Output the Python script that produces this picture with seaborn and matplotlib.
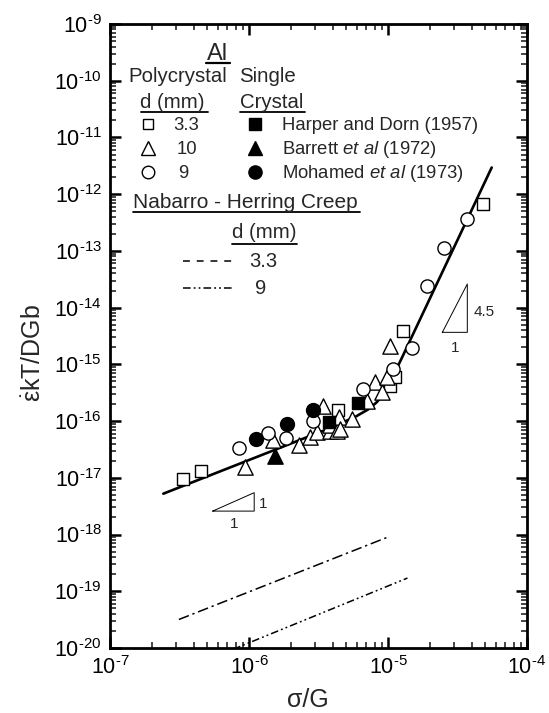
import numpy as np
import pandas as pd
import matplotlib
matplotlib.use("Agg")
import matplotlib.pyplot as plt
import seaborn as sns
from matplotlib.ticker import FixedLocator, LogLocator, FuncFormatter, NullFormatter

# ---- polycrystal data (open symbols) ----
poly33_x = [3.33e-7, 4.52e-7, 4.38e-6, 1.03e-5, 1.12e-5, 1.29e-5, 4.85e-5]
poly33_y = [9.6e-18, 1.31e-17, 1.54e-16, 4.24e-16, 5.93e-16, 3.94e-15, 6.7e-13]

poly10_x = [9.35e-7, 1.50e-6, 2.29e-6, 2.75e-6, 3.07e-6, 3.43e-6, 3.83e-6, 3.83e-6,
            4.28e-6, 4.47e-6, 4.52e-6, 5.48e-6, 7.03e-6, 8.06e-6, 9.0e-6, 9.8e-6, 1.03e-5]
poly10_y = [1.54e-17, 4.55e-17, 3.72e-17, 5.2e-17, 6.4e-17, 1.88e-16, 6.8e-17, 8.4e-17,
            6.8e-17, 1.2e-16, 7.3e-17, 1.1e-16, 2.3e-16, 4.8e-16, 3.2e-16, 5.9e-16, 2.1e-15]

poly9_x = [8.47e-7, 1.36e-6, 1.84e-6, 2.9e-6, 6.64e-6, 1.09e-5, 1.5e-5, 1.9e-5, 2.54e-5, 3.72e-5]
poly9_y = [3.33e-17, 6.1e-17, 5.0e-17, 9.96e-17, 3.7e-16, 8.3e-16, 1.92e-15, 2.44e-14, 1.12e-13, 3.65e-13]

# ---- single crystal data (filled symbols) ----
harper_x = [3.79e-6, 6.1e-6]
harper_y = [9.6e-17, 2.12e-16]
barrett_x = [1.54e-6]
barrett_y = [2.38e-17]
mohamed_x = [1.12e-6, 1.89e-6, 2.9e-6]
mohamed_y = [4.74e-17, 8.96e-17, 1.58e-16]

# ---- creep curve through the data ----
fit_x = [2.418e-7, 1.496e-6, 3.826e-6, 5.787e-6, 7.18e-6, 8.334e-6, 9.358e-6,
         1.0337e-5, 1.1418e-5, 1.261e-5, 2.005e-5, 3.89e-5, 5.572e-5]
fit_y = [5.25e-18, 3.036e-17, 7.53e-17, 1.181e-16, 1.60e-16, 2.169e-16, 3.125e-16,
         4.78e-16, 7.94e-16, 1.317e-15, 1.464e-14, 4.556e-13, 2.951e-12]

# ---- Nabarro-Herring predictions ----
nh33_x = [3.13e-7, 1.03e-5]
nh33_y = [3.18e-20, 9.3e-19]
nh9_x = [3.0e-7, 1.38e-5]
nh9_y = [3.7e-21, 1.71e-19]

# ---- slope guides ----
tri1_x = [5.48e-7, 1.09e-6, 1.09e-6, 5.48e-7]
tri1_y = [2.59e-18, 2.59e-18, 5.47e-18, 2.59e-18]
tri45_x = [2.46e-5, 3.72e-5, 3.72e-5, 2.46e-5]
tri45_y = [3.67e-15, 3.67e-15, 2.61e-14, 3.67e-15]

# ---- axis ticks ----
x_tick_exp = [-7, -6, -5, -4]
y_tick_exp = [-20, -19, -18, -17, -16, -15, -14, -13, -12, -11, -10, -9]

W, H = 549, 713
sns.set_style("ticks")
plt.rcParams["font.family"] = ["Liberation Sans", "DejaVu Sans"]
plt.rcParams["mathtext.fontset"] = "custom"
plt.rcParams["mathtext.rm"] = "Liberation Sans"
plt.rcParams["mathtext.it"] = "Liberation Sans:italic"
plt.rcParams["mathtext.bf"] = "Liberation Sans:bold"

fig = plt.figure(figsize=(W / 100, H / 100), dpi=100)
L, R, T, B = 110, 527, 24, 648
ax = fig.add_axes([L / W, 1 - B / H, (R - L) / W, (B - T) / H])


def fx(px):
    return px / W


def fy(py):
    return 1 - py / H


# curve and predicted lines
sns.lineplot(x=fit_x, y=fit_y, ax=ax, color="black", lw=1.9, sort=False,
             estimator=None, zorder=2)
ax.plot(nh33_x, nh33_y, color="black", lw=1.1, dashes=(7, 2.5, 1.5, 2.5), zorder=2)
ax.plot(nh9_x, nh9_y, color="black", lw=1.1, dashes=(5, 2, 1.2, 2, 1.2, 2), zorder=2)

ax.plot(tri1_x, tri1_y, color="black", lw=0.7)
ax.plot(tri45_x, tri45_y, color="black", lw=0.7)

# data groups
groups = [
    (poly33_x, poly33_y, "s", 8.0, "white"),
    (poly10_x, poly10_y, "^", 11.0, "white"),
    (poly9_x, poly9_y, "o", 9.5, "white"),
    (harper_x, harper_y, "s", 8.5, "black"),
    (barrett_x, barrett_y, "^", 11.0, "black"),
    (mohamed_x, mohamed_y, "o", 10.0, "black"),
]
for gx, gy, mk, ms, fc in groups:
    df = pd.DataFrame({"x": gx, "y": gy})
    sns.scatterplot(data=df, x="x", y="y", ax=ax, marker=mk, s=ms ** 2,
                    facecolor=fc, edgecolor="black", linewidth=1.0, zorder=3)

ax.set_xscale("log")
ax.set_yscale("log")
ax.set_xlim(1e-7, 1e-4)
ax.set_ylim(1e-20, 1e-9)
ax.set_xlabel("")
ax.set_ylabel("")

HYPHEN = "\u2010"


def decade_label(v, pos):
    e = int(round(np.log10(v)))
    return "$10^{\\mathrm{" + HYPHEN + str(-e) + "}}$"


ax.xaxis.set_major_locator(FixedLocator([10.0 ** e for e in x_tick_exp]))
ax.yaxis.set_major_locator(FixedLocator([10.0 ** e for e in y_tick_exp]))
ax.xaxis.set_minor_locator(LogLocator(base=10, subs=np.arange(2, 10), numticks=20))
ax.yaxis.set_minor_locator(LogLocator(base=10, subs=np.arange(2, 10), numticks=40))
ax.xaxis.set_major_formatter(FuncFormatter(decade_label))
ax.yaxis.set_major_formatter(FuncFormatter(decade_label))
ax.xaxis.set_minor_formatter(NullFormatter())
ax.yaxis.set_minor_formatter(NullFormatter())

ax.tick_params(which="major", direction="in", length=8, width=1.8,
               top=True, right=True, labelsize=15.5, pad=6, colors="black")
ax.tick_params(which="minor", direction="in", length=4, width=1.2,
               top=True, right=True)
for sp in ax.spines.values():
    sp.set_linewidth(2.0)
    sp.set_color("black")

# slope labels
ax.text(1.17e-6, 3.4e-18, "1", fontsize=11, ha="left", va="center")
ax.text(7.8e-7, 1.55e-18, "1", fontsize=11, ha="center", va="center")
ax.text(4.1e-5, 8.4e-15, "4.5", fontsize=11, ha="left", va="center")
ax.text(3.05e-5, 1.95e-15, "1", fontsize=11, ha="center", va="center")

# axis titles
fig.text(fx(33), fy(353), r"$\dot{\mathrm{\varepsilon}}$kT/DGb", rotation=90,
         fontsize=18, ha="center", va="center")
fig.text(fx(308), fy(700), "σ/G", fontsize=18, ha="center", va="center")


# key: headings
def underline(x0, x1, y, lw=1.3):
    fig.add_artist(plt.Line2D([fx(x0), fx(x1)], [fy(y), fy(y)], color="black", lw=lw,
                              transform=fig.transFigure))


fig.text(fx(217.7), fy(60), "Al", fontsize=17, ha="center", va="baseline")
underline(206, 229.5, 63, lw=1.6)
fig.text(fx(128.5), fy(82.5), "Polycrystal", fontsize=14.7, ha="left", va="baseline")
fig.text(fx(239), fy(82.5), "Single", fontsize=14.7, ha="left", va="baseline")
fig.text(fx(140.5), fy(107.5), "d (mm)", fontsize=14.7, ha="left", va="baseline")
underline(140.5, 207.5, 111.5)
fig.text(fx(240), fy(107.5), "Crystal", fontsize=14.7, ha="left", va="baseline")
underline(240, 305, 111.5)

key_rows = [124.3, 148.3, 171.7]
poly_labels = ["3.3", "10", "9"]
poly_x_text = [173.3, 176.7, 178.5]
single_labels = ["Harper and Dorn (1957)", r"Barrett $\it{et\ al}$ (1972)",
                 r"Mohamed $\it{et\ al}$ (1973)"]
for i, (gx, gy, mk, ms, fc) in enumerate(groups):
    col = i % 3
    if i < 3:
        px = 148.3
        fig.text(fx(poly_x_text[col]), fy(key_rows[col] + 5.8), poly_labels[col],
                 fontsize=13.3, ha="left", va="baseline")
    else:
        px = 255
        fig.text(fx(281.5), fy(key_rows[col] + 5.8), single_labels[col],
                 fontsize=13.3, ha="left", va="baseline")
    fig.add_artist(plt.Line2D([fx(px)], [fy(key_rows[col])], marker=mk,
                              markersize=ms * 0.95, markerfacecolor=fc,
                              markeredgecolor="black", markeredgewidth=1.0,
                              linestyle="none", transform=fig.transFigure))

fig.text(fx(133), fy(208.3), "Nabarro - Herring Creep", fontsize=15, ha="left",
         va="baseline")
underline(133, 359.5, 212.3)
fig.text(fx(231.5), fy(238.3), "d (mm)", fontsize=14.7, ha="left", va="baseline")
underline(231.5, 297, 243.5)
fig.add_artist(plt.Line2D([fx(183), fx(232)], [fy(261), fy(261)], color="black",
                          lw=1.1, dashes=(4.5, 4.5), transform=fig.transFigure))
fig.text(fx(249), fy(267), "3.3", fontsize=14.5, ha="left", va="baseline")
fig.add_artist(plt.Line2D([fx(183), fx(232)], [fy(288), fy(288)], color="black",
                          lw=1.1, dashes=(5, 2, 1.2, 2, 1.2, 2), transform=fig.transFigure))
fig.text(fx(255), fy(294), "9", fontsize=14.5, ha="left", va="baseline")

fig.savefig("out.png", dpi=100)
